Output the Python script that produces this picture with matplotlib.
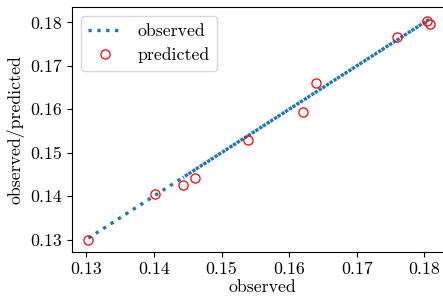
import numpy as np
import matplotlib
matplotlib.use('Agg')
import matplotlib.pyplot as plt

# ── data (plot order as drawn, unsorted) ─────────────────────────────────────
observed = [0.1303, 0.1401, 0.1461, 0.1621, 0.1759, 0.1808, 0.1804, 0.1640, 0.1539, 0.1443]
predicted = [0.1300, 0.1405, 0.1442, 0.1593, 0.1766, 0.1797, 0.1804, 0.1660, 0.1529, 0.1426]

xticks = [0.13, 0.14, 0.15, 0.16, 0.17, 0.18]
yticks = [0.13, 0.14, 0.15, 0.16, 0.17, 0.18]

# ── style: Computer Modern look ──────────────────────────────────────────────
plt.rcParams.update({
    'font.family': 'serif',
    'font.serif': ['cmr10'],
    'mathtext.fontset': 'cm',
    'axes.formatter.use_mathtext': True,
    'font.size': 12.8,
    'axes.unicode_minus': False,
})

W, H = 443, 297
fig = plt.figure(figsize=(W / 100, H / 100), dpi=100)
ax = fig.add_axes([71.7 / W, (H - 251.7) / H, (452.7 - 71.7) / W, (251.7 - 7.3) / H])

ax.plot(observed, observed, linestyle=':', linewidth=2.4, color='#1f77b4',
        label='observed')
ax.plot(observed, predicted, linestyle='none', marker='o', markersize=6.6,
        markerfacecolor='none', markeredgecolor='red', markeredgewidth=0.9,
        label='predicted')

ax.set_xlim(0.12784, 0.18420)
ax.set_ylim(0.12719, 0.1835)
ax.set_xticks(xticks)
ax.set_xticklabels([f'{t:.2f}' for t in xticks])
ax.set_yticks(yticks)
ax.set_yticklabels([f'{t:.2f}' for t in yticks])

ax.set_xlabel('observed', labelpad=2)
ax.set_ylabel('observed/predicted')
ax.legend(loc='upper left')

fig.savefig('out.png', dpi=100, facecolor='white')
